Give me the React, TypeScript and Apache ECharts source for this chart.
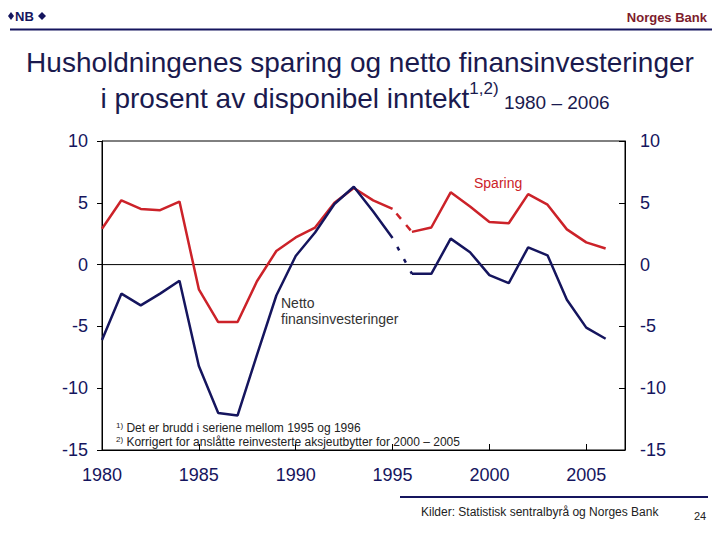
import React, { useEffect, useRef } from "react";
import * as echarts from "echarts";

const years1 = [1980, 1981, 1982, 1983, 1984, 1985, 1986, 1987, 1988, 1989, 1990, 1991, 1992, 1993, 1994, 1995];
const sparing1 = [2.9, 5.2, 4.5, 4.4, 5.1, -2.0, -4.65, -4.65, -1.35, 1.1, 2.2, 3.0, 5.0, 6.2, 5.2, 4.5];
const netto1 = [-6.1, -2.35, -3.3, -2.35, -1.3, -8.2, -12.0, -12.2, -7.3, -2.5, 0.7, 2.6, 4.9, 6.3, 4.3, 2.15];

const years2 = [1996, 1997, 1998, 1999, 2000, 2001, 2002, 2003, 2004, 2005, 2006];
const sparing2 = [2.65, 3.0, 5.85, 4.7, 3.45, 3.35, 5.7, 4.85, 2.85, 1.8, 1.3];
const netto2 = [-0.75, -0.75, 2.1, 1.0, -0.85, -1.5, 1.4, 0.75, -2.85, -5.1, -6.0];

const yTicks = [-15, -10, -5, 0, 5, 10];

const RED = "#cc2229";
const NAVY = "#15155e";
const TITLE = "#1a1a4e";
const FONT = "Liberation Sans, Arial, sans-serif";

function pairs(xs: number[], ys: number[]) {
  return xs.map((x, i) => [x, ys[i]]);
}

export default function App() {
  const ref = useRef<HTMLDivElement>(null);
  useEffect(() => {
    if (!ref.current) return;
    const chart = echarts.init(ref.current, null, { renderer: "svg" });
    const yAxisBase = {
      type: "value",
      min: yTicks[0],
      max: yTicks[yTicks.length - 1],
      interval: 5,
      splitLine: { show: false },
      axisLine: { show: true, lineStyle: { color: "#000", width: 1 } },
      axisLabel: { fontSize: 18, color: NAVY, fontFamily: FONT, margin: 14 },
    };
    const lastS1 = sparing1[sparing1.length - 1];
    const lastN1 = netto1[netto1.length - 1];
    const lastY1 = years1[years1.length - 1];
    chart.setOption({
      animation: false,
      backgroundColor: "#fff",
      grid: {
        left: 102,
        top: 141,
        width: 523,
        height: 309,
        show: true,
        borderColor: "#000",
        borderWidth: 1,
        backgroundColor: "transparent",
      },
      xAxis: {
        type: "value",
        min: 1980,
        max: 2007,
        interval: 5,
        splitLine: { show: false },
        axisLine: { show: true, onZero: false, lineStyle: { color: "#000", width: 1 } },
        axisTick: { show: true, inside: true, length: 6, lineStyle: { color: "#000" } },
        axisLabel: {
          fontSize: 18,
          color: NAVY,
          fontFamily: FONT,
          margin: 16,
          showMaxLabel: false,
          formatter: (v: number) => (v > 2005 ? "" : String(v)),
        },
      },
      yAxis: [
        {
          ...yAxisBase,
          position: "left",
          axisTick: { show: true, inside: false, length: 5, lineStyle: { color: "#000" } },
        },
        {
          ...yAxisBase,
          position: "right",
          axisTick: { show: true, inside: true, length: 6, lineStyle: { color: "#000" } },
          axisLabel: { ...yAxisBase.axisLabel, margin: 15 },
        },
      ],
      series: [
        {
          type: "line",
          data: [[1980, 0], [2007, 0]],
          symbol: "none",
          lineStyle: { color: "#000", width: 1 },
          silent: true,
          z: 1,
        },
        {
          name: "Sparing",
          type: "line",
          data: pairs(years1, sparing1),
          symbol: "none",
          lineStyle: { color: RED, width: 2.5 },
          z: 3,
        },
        {
          type: "line",
          data: pairs(years2, sparing2),
          symbol: "none",
          lineStyle: { color: RED, width: 2.5 },
          z: 3,
        },
        {
          type: "line",
          data: [[lastY1, lastS1], [years2[0], sparing2[0]]],
          symbol: "none",
          lineStyle: { color: RED, width: 2.5, type: [7, 8], dashOffset: -6 },
          z: 3,
        },
        {
          name: "Netto finansinvesteringer",
          type: "line",
          data: pairs(years1, netto1),
          symbol: "none",
          lineStyle: { color: NAVY, width: 2.5 },
          z: 4,
        },
        {
          type: "line",
          data: pairs(years2, netto2),
          symbol: "none",
          lineStyle: { color: NAVY, width: 2.5 },
          z: 4,
        },
        {
          type: "line",
          data: [[lastY1, lastN1], [years2[0], netto2[0]]],
          symbol: "none",
          lineStyle: { color: NAVY, width: 2.5, type: [4, 10], dashOffset: -10 },
          z: 4,
        },
      ],
      graphic: [
        // header logo
        {
          type: "polygon",
          shape: { points: [[8, 16], [11, 12], [14, 16], [11, 20]] },
          style: { fill: NAVY },
        },
        {
          type: "text",
          x: 15,
          y: 16,
          style: {
            text: "NB",
            fontSize: 13,
            fontWeight: "bold",
            fill: NAVY,
            fontFamily: FONT,
            verticalAlign: "middle",
          },
        },
        {
          type: "polygon",
          shape: { points: [[38, 16], [42, 12], [46, 16], [42, 20]] },
          style: { fill: NAVY },
        },
        {
          type: "text",
          x: 707,
          y: 17,
          style: {
            text: "Norges Bank",
            fontSize: 13,
            fontWeight: "bold",
            fill: "#7d1c2c",
            fontFamily: FONT,
            align: "right",
            verticalAlign: "middle",
          },
        },
        {
          type: "line",
          shape: { x1: 10, y1: 29.5, x2: 712, y2: 29.5 },
          style: { stroke: NAVY, lineWidth: 2 },
        },
        // title
        {
          type: "text",
          x: 360,
          y: 62,
          style: {
            text: "Husholdningenes sparing og netto finansinvesteringer",
            fontSize: 28,
            fill: TITLE,
            fontFamily: FONT,
            align: "center",
            verticalAlign: "middle",
          },
        },
        {
          type: "text",
          x: 355,
          y: 96,
          style: {
            text: "{a|i prosent av disponibel inntekt}{s|1,2)}{b| 1980 – 2006}",
            fill: TITLE,
            fontFamily: FONT,
            align: "center",
            verticalAlign: "middle",
            rich: {
              a: { fontSize: 28, fill: TITLE, fontFamily: FONT, lineHeight: 32, verticalAlign: "bottom" },
              s: { fontSize: 17, fill: TITLE, fontFamily: FONT, lineHeight: 20, verticalAlign: "top" },
              b: { fontSize: 19, fill: TITLE, fontFamily: FONT, lineHeight: 24, verticalAlign: "bottom" },
            },
          },
        },
        // inline labels
        {
          type: "text",
          x: 474,
          y: 183,
          style: {
            text: "Sparing",
            fontSize: 14,
            fill: RED,
            fontFamily: FONT,
            verticalAlign: "middle",
          },
        },
        {
          type: "text",
          x: 281,
          y: 295,
          style: {
            text: "Netto\nfinansinvesteringer",
            fontSize: 14,
            lineHeight: 16,
            fill: "#333",
            fontFamily: FONT,
            verticalAlign: "top",
          },
        },
        // footnotes
        {
          type: "text",
          x: 116,
          y: 428,
          style: {
            text: "{s|1)} {t|Det er brudd i seriene mellom 1995 og 1996}",
            fontFamily: FONT,
            verticalAlign: "middle",
            rich: {
              s: { fontSize: 8, fill: "#222", fontFamily: FONT, verticalAlign: "top", lineHeight: 10 },
              t: { fontSize: 12, fill: "#222", fontFamily: FONT, lineHeight: 14 },
            },
          },
        },
        {
          type: "text",
          x: 116,
          y: 442,
          style: {
            text: "{s|2)} {t|Korrigert for anslåtte reinvesterte aksjeutbytter for 2000 – 2005}",
            fontFamily: FONT,
            verticalAlign: "middle",
            rich: {
              s: { fontSize: 8, fill: "#222", fontFamily: FONT, verticalAlign: "top", lineHeight: 10 },
              t: { fontSize: 12, fill: "#222", fontFamily: FONT, lineHeight: 14 },
            },
          },
        },
        // footer
        {
          type: "line",
          shape: { x1: 400, y1: 497, x2: 708, y2: 497 },
          style: { stroke: NAVY, lineWidth: 2 },
        },
        {
          type: "text",
          x: 421,
          y: 512,
          style: {
            text: "Kilder: Statistisk sentralbyrå og Norges Bank",
            fontSize: 12,
            fill: "#222",
            fontFamily: FONT,
            verticalAlign: "middle",
          },
        },
        {
          type: "text",
          x: 694,
          y: 516,
          style: {
            text: "24",
            fontSize: 11,
            fill: "#222",
            fontFamily: FONT,
            verticalAlign: "middle",
          },
        },
      ],
    });
    return () => chart.dispose();
  }, []);
  return (
    <div
      ref={ref}
      style={{ position: "absolute", left: 0, top: 0, width: 720, height: 540 }}
    />
  );
}
